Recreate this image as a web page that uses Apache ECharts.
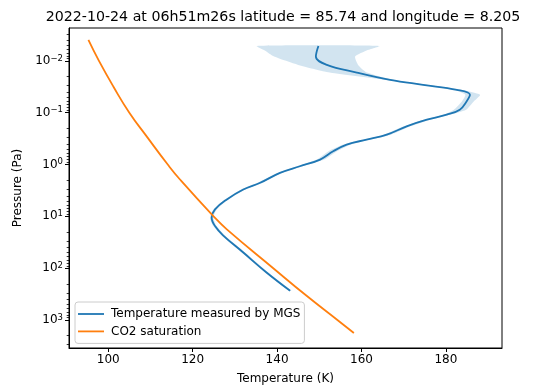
<!DOCTYPE html>
<html>
<head>
<meta charset="utf-8">
<script src="https://cdn.jsdelivr.net/npm/echarts@6/dist/echarts.min.js"></script>
<style>html,body{margin:0;padding:0;background:#fff}#c{width:534px;height:390px}</style>
</head>
<body>
<div id="c"></div>
<script>
// ---- data (pressure given as log10(Pa)) ----
var titleText = "2022-10-24 at 06h51m26s latitude = 85.74 and longitude = 8.205";
var seriesNames = ["Temperature measured by MGS", "CO2 saturation"];
var xTicks = [100, 120, 140, 160, 180];
var yTicks = [-2, -1, 0, 1, 2, 3];
var yTickExp = ["\u22122", "\u22121", "0", "1", "2", "3"];

var mgsLogP = [-2.288,-2.083,-1.923,-1.775,-1.635,-1.538,-1.442,-1.346,-1.217,-1.058,-0.962,-0.865,-0.737,-0.577,-0.481,-0.385,-0.256,-0.096,0.033,0.160,0.352,0.481,0.673,0.865,1.025,1.187,1.365,1.698,2.083,2.437];
var mgsT    = [149.8,149.2,151.8,158.9,166.8,174.6,182.6,185.7,184.9,183.3,180.2,175.5,170.7,166.0,161.2,156.5,153.3,150.2,145.4,140.7,136.0,132.0,128.1,125.3,124.5,125.3,127.2,132.0,137.5,143.1];

var bandLogP = [-2.288,-2.2,-2.083,-1.923,-1.775,-1.635,-1.538,-1.442,-1.346,-1.217,-1.058,-0.962,-0.865,-0.737,-0.577,-0.481,-0.385,-0.256,-0.096,0.033,0.160,0.352,0.481,0.673,0.865,1.025,1.187,1.365,1.698,2.083,2.437];
var bandLow  = [135.2,137.1,139.3,145.0,152.5,165.6,174.0,182.0,184.6,183.8,181.9,179.4,174.8,170.0,165.3,160.6,155.7,152.2,149.4,144.8,140.2,135.4,131.5,127.7,124.9,124.1,124.9,126.8,131.6,137.2,142.8];
var bandHigh = [164.2,161.2,158.5,159.2,161.3,167.5,175.5,183.6,188.1,186.6,184.8,181.0,176.3,171.6,167.0,162.0,157.5,154.2,151.2,146.0,141.2,136.6,132.5,128.5,125.7,124.9,125.7,127.6,132.4,137.9,143.4];

var co2LogP = [-2.404,-2.0,-1.506,-1.0,-0.544,0.0,0.288,0.994,1.25,2.0,2.533,3.0,3.25];
var co2T    = [95.3,97.8,101.2,105.0,109.1,114.1,117.0,124.9,128.1,139.1,147.0,154.3,158.2];

// ---- build ----
var minorTicks = [];
for (var n = -3; n <= 3; n++) {
  for (var k = 2; k <= 9; k++) {
    var v = n + Math.log10(k);
    if (v > -2.635 && v < 3.54) minorTicks.push(v);
  }
}
function pairs(xs, ys) { return xs.map(function (x, i) { return [x, ys[i]]; }); }
var FONT = "DejaVu Sans";
var FS = 12;
var chart = echarts.init(document.getElementById('c'), null, {renderer: 'canvas'});
chart.setOption({
  animation: false,
  title: {
    text: titleText, left: 278, top: 5, textAlign: 'center',
    textStyle: {fontFamily: FONT, fontSize: 14.2, fontWeight: 'normal', color: '#000'}
  },
  grid: {left: 69, right: 32, top: 28, bottom: 41, show: true, borderColor: '#000', borderWidth: 1, backgroundColor: 'transparent'},
  legend: {
    orient: 'vertical', left: 75, top: 302,
    data: seriesNames,
    icon: 'rect',
    itemWidth: 26, itemHeight: 1.8, itemGap: 3.4,
    padding: [5, 4, 5, 3],
    borderColor: '#cccccc', borderWidth: 1, borderRadius: 3,
    backgroundColor: 'rgba(255,255,255,0.8)',
    textStyle: {fontFamily: FONT, fontSize: FS, lineHeight: 14, color: '#000', padding: [0, 0, 0, 2]}
  },
  xAxis: {
    type: 'value', min: 90.7, max: 193.3,
    name: 'Temperature (K)', nameLocation: 'middle', nameGap: 25,
    nameTextStyle: {fontFamily: FONT, fontSize: FS, color: '#000'},
    axisLine: {show: true, onZero: false, lineStyle: {color: '#000', width: 1}},
    axisTick: {show: true, length: 4, lineStyle: {color: '#000'}, customValues: xTicks},
    axisLabel: {fontFamily: FONT, fontSize: FS, color: '#000', margin: 6, customValues: xTicks},
    splitLine: {show: false}
  },
  yAxis: [{
    type: 'value', min: -2.635, max: 3.54, inverse: true,
    name: 'Pressure (Pa)', nameLocation: 'middle', nameGap: 44,
    nameTextStyle: {fontFamily: FONT, fontSize: FS, color: '#000'},
    axisLine: {show: true, onZero: false, lineStyle: {color: '#000', width: 1}},
    axisTick: {show: true, length: 4, lineStyle: {color: '#000'}, customValues: yTicks},
    axisLabel: {fontFamily: FONT, fontSize: FS, color: '#000', margin: 6, customValues: yTicks,
      formatter: function (v) { var i = yTicks.indexOf(Math.round(v)); return i >= 0 ? '{b|10}{s|' + yTickExp[i] + '}' : ''; },
      rich: {
        b: {fontFamily: FONT, fontSize: FS, color: '#000', lineHeight: 14},
        s: {fontFamily: FONT, fontSize: 8.5, color: '#000', lineHeight: 6, verticalAlign: 'top'}
      }},
    splitLine: {show: false}
  }, {
    type: 'value', min: -2.635, max: 3.54, inverse: true, position: 'left',
    axisLine: {show: false},
    axisTick: {show: true, length: 2.3, lineStyle: {color: '#000', width: 0.8}, customValues: minorTicks},
    axisLabel: {show: false},
    splitLine: {show: false}
  }],
  series: [{
    type: 'custom', name: 'band', silent: true, z: 1,
    data: [[bandLow[0], bandLogP[0]]],
    renderItem: function (params, api) {
      if (params.dataIndex !== 0) return null;
      var pts = [];
      for (var i = 0; i < bandLogP.length; i++) pts.push(api.coord([bandLow[i], bandLogP[i]]));
      for (var j = bandLogP.length - 1; j >= 0; j--) pts.push(api.coord([bandHigh[j], bandLogP[j]]));
      return {type: 'polygon', shape: {points: pts, smooth: 0.2}, style: {fill: 'rgba(31,119,180,0.2)'}};
    }
  }, {
    type: 'line', name: seriesNames[0], data: pairs(mgsT, mgsLogP),
    symbol: 'none', smooth: 0.4, z: 3,
    lineStyle: {color: '#1f77b4', width: 1.8}, itemStyle: {color: '#1f77b4'}
  }, {
    type: 'line', name: seriesNames[1], data: pairs(co2T, co2LogP),
    symbol: 'none', smooth: 0.5, z: 4,
    lineStyle: {color: '#ff7f0e', width: 1.8}, itemStyle: {color: '#ff7f0e'}
  }]
});
</script>
</body>
</html>
